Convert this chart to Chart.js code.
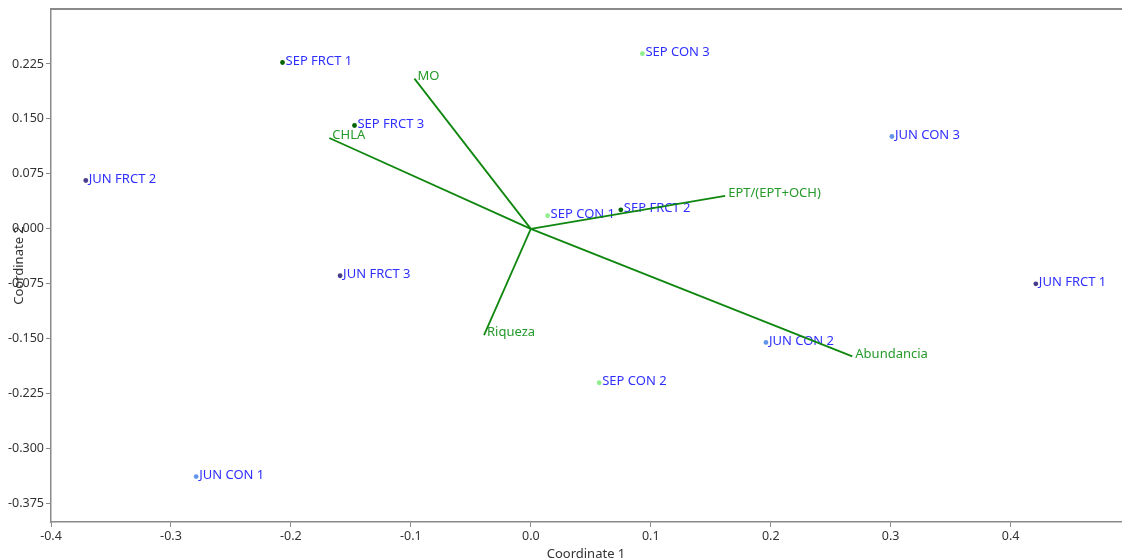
<!DOCTYPE html>
<html>
<head>
<meta charset="utf-8">
<script src="https://cdn.jsdelivr.net/npm/chart.js@4.4.1/dist/chart.umd.min.js"></script>
<style>
  html, body { margin: 0; padding: 0; background: #fff; }
  #wrap { width: 1122px; height: 560px; position: relative; }
</style>
</head>
<body>
<div id="wrap"><canvas id="pcoChart"></canvas></div>
<script>
// sample scores (Coordinate 1 / Coordinate 2)
const sampleNames = ["JUN FRCT 1", "JUN FRCT 2", "JUN FRCT 3", "JUN CON 1", "JUN CON 2", "JUN CON 3",
  "SEP FRCT 1", "SEP FRCT 2", "SEP FRCT 3", "SEP CON 1", "SEP CON 2", "SEP CON 3"];
const sampleGroup = ["JUN FRCT", "JUN FRCT", "JUN FRCT", "JUN CON", "JUN CON", "JUN CON",
  "SEP FRCT", "SEP FRCT", "SEP FRCT", "SEP CON", "SEP CON", "SEP CON"];
const coord1 = [0.421, -0.371, -0.159, -0.279, 0.196, 0.301, -0.207, 0.075, -0.147, 0.014, 0.057, 0.093];
const coord2 = [-0.075, 0.066, -0.064, -0.338, -0.155, 0.126, 0.227, 0.026, 0.141, 0.018, -0.210, 0.239];

// environmental vectors (from origin)
const vectorNames = ["MO", "CHLA", "EPT/(EPT+OCH)", "Riqueza", "Abundancia"];
const vectorX = [-0.097, -0.168, 0.162, -0.039, 0.268];
const vectorY = [0.205, 0.124, 0.045, -0.145, -0.174];

const groupNames = ["JUN FRCT", "JUN CON", "SEP FRCT", "SEP CON"];
const groupColors = ["#483d8b", "#6495ed", "#006400", "#90ee90"];

const xTicks = [-0.4, -0.3, -0.2, -0.1, 0.0, 0.1, 0.2, 0.3, 0.4];
const yTicks = [-0.375, -0.3, -0.225, -0.15, -0.075, 0.0, 0.075, 0.15, 0.225];

const FONT = "'Noto Sans', 'Open Sans', sans-serif";
const AXIS_GREY = "#8a8a8a";
const LABEL_BLUE = "#2f2fff";
const VEC_LINE = "#0f870f";
const VEC_TEXT = "#25992a";

const datasets = [];

vectorNames.forEach((name, i) => {
  datasets.push({
    type: "line",
    label: name,
    data: [{ x: 0, y: 0 }, { x: vectorX[i], y: vectorY[i] }],
    borderColor: VEC_LINE,
    borderWidth: 1.8,
    pointRadius: 0,
    fill: false,
    tension: 0,
  });
});

groupNames.forEach((g, gi) => {
  const pts = [];
  sampleNames.forEach((n, i) => {
    if (sampleGroup[i] === g) pts.push({ x: coord1[i], y: coord2[i], name: n });
  });
  datasets.push({
    type: "scatter",
    label: g,
    data: pts,
    backgroundColor: groupColors[gi],
    borderColor: groupColors[gi],
    pointRadius: 2.4,
    pointBorderWidth: 0,
  });
});

// text labels for samples and vectors, drawn under the lines
const labelPlugin = {
  id: "labelPlugin",
  beforeDatasetsDraw(chart) {
    const { ctx, scales } = chart;
    ctx.save();
    ctx.font = "13px " + FONT;
    ctx.textBaseline = "middle";
    ctx.textAlign = "left";
    ctx.fillStyle = LABEL_BLUE;
    sampleNames.forEach((n, i) => {
      const px = scales.x.getPixelForValue(coord1[i]);
      const py = scales.y.getPixelForValue(coord2[i]);
      ctx.fillText(n, px + 3, py - 1.5);
    });
    ctx.fillStyle = VEC_TEXT;
    vectorNames.forEach((n, i) => {
      const px = scales.x.getPixelForValue(vectorX[i]);
      const py = scales.y.getPixelForValue(vectorY[i]);
      ctx.fillText(n, px + 3, py - 2.5);
    });
    ctx.restore();
  },
  afterDraw(chart) {
    // top frame line
    const { ctx, chartArea } = chart;
    ctx.save();
    ctx.strokeStyle = AXIS_GREY;
    ctx.lineWidth = 2;
    ctx.beginPath();
    ctx.moveTo(chartArea.left, chartArea.top);
    ctx.lineTo(chart.width, chartArea.top);
    ctx.stroke();
    ctx.restore();
  },
};

new Chart(document.getElementById("pcoChart"), {
  data: { datasets },
  options: {
    responsive: true,
    maintainAspectRatio: false,
    animation: false,
    layout: { autoPadding: false, padding: { top: 9, right: 1, left: 0, bottom: 0 } },
    plugins: {
      legend: { display: false },
      tooltip: { enabled: false },
    },
    scales: {
      x: {
        type: "linear",
        position: "bottom",
        min: -0.4,
        max: 0.492,
        afterBuildTicks: (s) => { s.ticks = xTicks.map((v) => ({ value: v })); },
        afterFit: (s) => { s.height = 38; s.paddingLeft = 0; s.paddingRight = 0; },
        ticks: {
          callback: (v) => Number(v).toFixed(1),
          color: "#333",
          font: { family: FONT, size: 12.5 },
          padding: 2,
          maxRotation: 0,
        },
        grid: { drawOnChartArea: false, drawTicks: true, tickLength: 5, color: AXIS_GREY },
        border: { display: true, color: AXIS_GREY, width: 1.5 },
        title: {
          display: true,
          text: "Coordinate 1",
          color: "#333",
          font: { family: FONT, size: 13 },
          padding: { top: 0, bottom: -2 },
        },
      },
      y: {
        type: "linear",
        position: "left",
        min: -0.4,
        max: 0.3,
        afterBuildTicks: (s) => { s.ticks = yTicks.map((v) => ({ value: v })); },
        afterFit: (s) => { s.width = 51; s.paddingTop = 0; s.paddingBottom = 0; },
        ticks: {
          callback: (v) => Number(v).toFixed(3),
          color: "#333",
          font: { family: FONT, size: 12.5 },
          padding: 2,
        },
        grid: { drawOnChartArea: false, drawTicks: true, tickLength: 5, color: AXIS_GREY },
        border: { display: true, color: AXIS_GREY, width: 1.5 },
        title: {
          display: true,
          text: "Coordinate 2",
          color: "#333",
          font: { family: FONT, size: 13 },
          padding: { top: 11, bottom: 0 },
        },
      },
    },
  },
  plugins: [labelPlugin],
});
</script>
</body>
</html>
